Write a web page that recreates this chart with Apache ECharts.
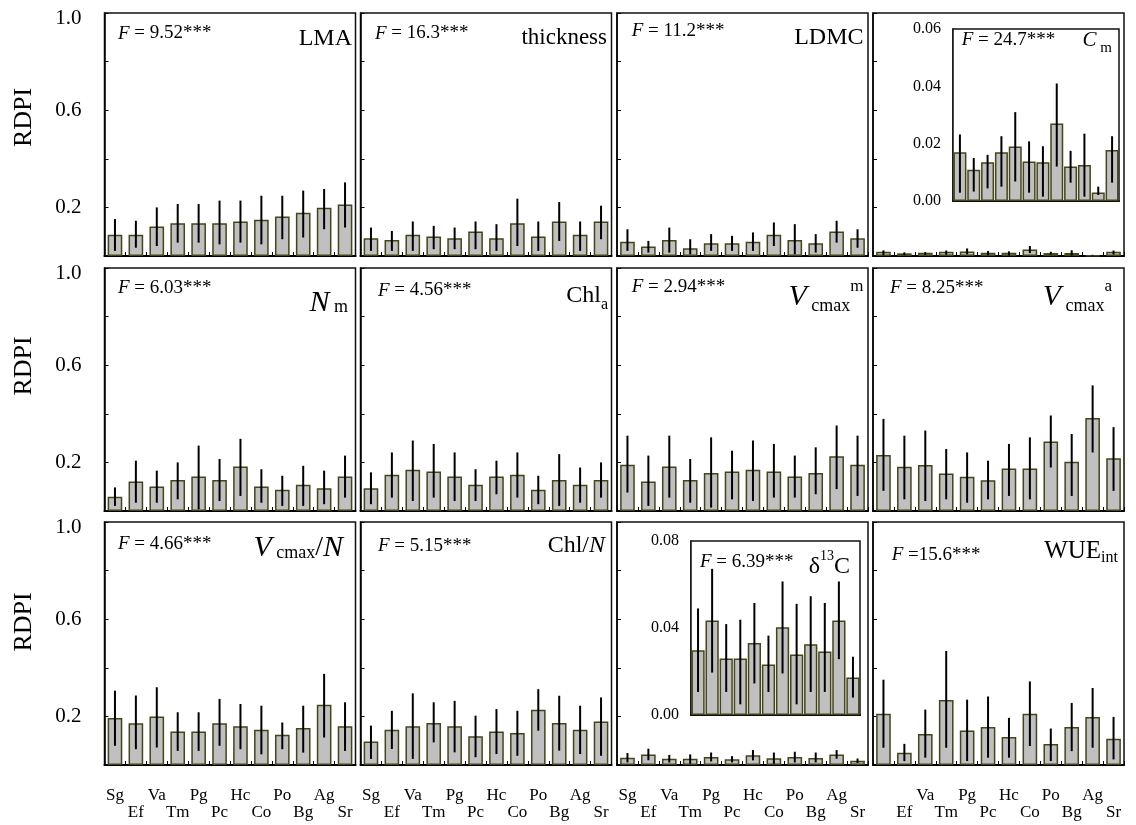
<!DOCTYPE html>
<html>
<head>
<meta charset="utf-8">
<script src="https://cdn.jsdelivr.net/npm/echarts@6/dist/echarts.min.js"></script>
<style>
html,body{margin:0;padding:0;background:#fff;}
#c{width:1136px;height:825px;}
</style>
</head>
<body>
<div id="c"></div>
<script>
// ---------------- data ----------------
const categories = ['Sg','Ef','Va','Tm','Pg','Pc','Hc','Co','Po','Bg','Ag','Sr'];
const lastPanelTickLabels = ['','Ef','Va','Tm','Pg','Pc','Hc','Co','Po','Bg','Ag','Sr'];
const yTickLabels = ['0.2','0.6','1.0'];

const lmaMean = [0.087,0.087,0.121,0.135,0.135,0.135,0.142,0.149,0.163,0.178,0.199,0.212];
const lmaLow  = [0.021,0.034,0.041,0.055,0.055,0.048,0.055,0.048,0.069,0.076,0.110,0.117];
const lmaHigh = [0.152,0.145,0.200,0.214,0.214,0.228,0.228,0.248,0.248,0.269,0.276,0.303];

const thickMean = [0.073,0.066,0.087,0.080,0.073,0.101,0.073,0.135,0.080,0.142,0.087,0.142];
const thickLow  = [0.021,0.021,0.021,0.028,0.028,0.028,0.021,0.041,0.021,0.062,0.021,0.069];
const thickHigh = [0.117,0.103,0.142,0.124,0.117,0.142,0.131,0.236,0.142,0.222,0.142,0.207];

const ldmcMean = [0.059,0.039,0.066,0.032,0.052,0.052,0.059,0.087,0.066,0.052,0.101,0.073];
const ldmcLow  = [0.021,0.014,0.014,0.007,0.021,0.021,0.021,0.041,0.007,0.014,0.055,0.034];
const ldmcHigh = [0.110,0.062,0.117,0.069,0.090,0.083,0.097,0.138,0.131,0.090,0.145,0.110];

const cmMean = [0.0170,0.0109,0.0135,0.0170,0.0190,0.0138,0.0135,0.0270,0.0120,0.0126,0.0030,0.0178];
const cmLow  = [0.0029,0.0033,0.0044,0.0050,0.0068,0.0029,0.0015,0.0120,0.0064,0.0015,0.0021,0.0064];
const cmHigh = [0.0232,0.0150,0.0161,0.0226,0.0310,0.0208,0.0191,0.0410,0.0175,0.0235,0.0050,0.0226];

const nmMean = [0.059,0.121,0.101,0.128,0.142,0.128,0.183,0.101,0.087,0.108,0.094,0.142];
const nmLow  = [0.021,0.034,0.034,0.048,0.007,0.041,0.062,0.034,0.021,0.021,0.028,0.055];
const nmHigh = [0.097,0.207,0.166,0.200,0.269,0.214,0.297,0.172,0.145,0.186,0.166,0.228];

const chlaMean = [0.094,0.149,0.170,0.163,0.142,0.108,0.142,0.149,0.087,0.128,0.108,0.128];
const chlaLow  = [0.028,0.055,0.041,0.055,0.041,0.041,0.069,0.055,0.028,0.021,0.034,0.055];
const chlaHigh = [0.159,0.241,0.290,0.276,0.241,0.172,0.207,0.241,0.145,0.234,0.179,0.200];

const vmMean = [0.190,0.121,0.183,0.128,0.156,0.163,0.170,0.163,0.142,0.156,0.225,0.190];
const vmLow  = [0.076,0.021,0.055,0.034,0.014,0.048,0.041,0.055,0.055,0.069,0.090,0.062];
const vmHigh = [0.310,0.228,0.310,0.214,0.303,0.248,0.290,0.276,0.228,0.262,0.352,0.310];

const vaMean = [0.230,0.182,0.189,0.154,0.141,0.127,0.175,0.175,0.286,0.203,0.383,0.217];
const vaLow  = [0.083,0.048,0.041,0.048,0.034,0.048,0.062,0.048,0.179,0.062,0.241,0.083];
const vaHigh = [0.379,0.310,0.331,0.255,0.241,0.207,0.276,0.303,0.393,0.317,0.517,0.345];

const vnMean = [0.193,0.172,0.200,0.138,0.138,0.172,0.159,0.145,0.124,0.152,0.248,0.159];
const vnLow  = [0.079,0.065,0.072,0.058,0.058,0.079,0.065,0.044,0.065,0.051,0.113,0.058];
const vnHigh = [0.306,0.286,0.320,0.217,0.217,0.272,0.251,0.244,0.175,0.244,0.375,0.258];

const cnMean = [0.097,0.145,0.159,0.173,0.159,0.118,0.138,0.132,0.227,0.173,0.145,0.179];
const cnLow  = [0.025,0.066,0.025,0.093,0.052,0.032,0.045,0.038,0.141,0.059,0.045,0.038];
const cnHigh = [0.162,0.223,0.295,0.258,0.264,0.203,0.230,0.223,0.312,0.285,0.244,0.278];

const d13Mean = [0.0298,0.0434,0.0260,0.0260,0.0331,0.0232,0.0403,0.0278,0.0325,0.0292,0.0434,0.0172];
const d13Low  = [0.0106,0.0195,0.0106,0.0049,0.0145,0.0106,0.0191,0.0049,0.0106,0.0106,0.0257,0.0080];
const d13High = [0.0490,0.0672,0.0418,0.0438,0.0515,0.0365,0.0614,0.0511,0.0546,0.0515,0.0614,0.0268];

const wueMean = [0.211,0.050,0.128,0.267,0.142,0.156,0.115,0.211,0.086,0.156,0.198,0.108];
const wueLow  = [0.071,0.016,0.030,0.071,0.016,0.030,0.030,0.078,0.016,0.057,0.071,0.023];
const wueHigh = [0.351,0.087,0.228,0.469,0.269,0.282,0.194,0.344,0.150,0.255,0.317,0.198];

const fStats = [' = 9.52***',' = 16.3***',' = 11.2***',' = 24.7***',
                ' = 6.03***',' = 4.56***',' = 2.94***',' = 8.25***',
                ' = 4.66***',' = 5.15***',' = 6.39***',' =15.6***'];

// ---------------- layout ----------------
const FONT = 'Liberation Serif';
const colLeft = [104.5, 360.5, 617, 873];
const rowTop = [13, 268, 522];
const panelW = 251, panelH = 243;

const panels = [
  {mean: lmaMean, lo: lmaLow, hi: lmaHigh},
  {mean: thickMean, lo: thickLow, hi: thickHigh},
  {mean: ldmcMean, lo: ldmcLow, hi: ldmcHigh},
  {mean: cmMean, lo: cmLow, hi: cmHigh},
  {mean: nmMean, lo: nmLow, hi: nmHigh},
  {mean: chlaMean, lo: chlaLow, hi: chlaHigh},
  {mean: vmMean, lo: vmLow, hi: vmHigh},
  {mean: vaMean, lo: vaLow, hi: vaHigh},
  {mean: vnMean, lo: vnLow, hi: vnHigh},
  {mean: cnMean, lo: cnLow, hi: cnHigh},
  {mean: d13Mean, lo: d13Low, hi: d13High},
  {mean: wueMean, lo: wueLow, hi: wueHigh}
];
const insets = [
  {mean: cmMean, lo: cmLow, hi: cmHigh, max: 0.06, interval: 0.02, rect: {left: 953, top: 29, width: 166, height: 172}},
  {mean: d13Mean, lo: d13Low, hi: d13High, max: 0.08, interval: 0.04, rect: {left: 691, top: 541, width: 169, height: 174}}
];

function errorBar(params, api) {
  const x = api.value(0);
  const a = api.coord([x, api.value(1)]);
  const b = api.coord([x, api.value(2)]);
  return {type: 'line', shape: {x1: a[0], y1: a[1], x2: b[0], y2: b[1]},
          style: {stroke: '#000', lineWidth: 2}};
}

const grids = [], xAxes = [], yAxes = [], series = [];
const barStyle = {color: '#c0c0c0', borderColor: '#45451a', borderWidth: 1.5};

panels.forEach((p, k) => {
  const col = k % 4, row = Math.floor(k / 4);
  grids.push({left: colLeft[col], top: rowTop[row], width: panelW, height: panelH,
              show: true, borderColor: '#111', borderWidth: 1.5, backgroundColor: 'transparent'});
  xAxes.push({type: 'category', gridIndex: k, data: k === 11 ? lastPanelTickLabels : categories,
    axisLine: {lineStyle: {color: '#000', width: 2}},
    axisTick: {show: true, inside: true, length: 4, lineStyle: {color: '#000', width: 1}},
    axisLabel: {show: row === 2, interval: 0, formatter: (v, i) => (i % 2 === 0 ? v : '\n' + v),
                fontFamily: FONT, fontSize: 17, lineHeight: 17, color: '#000', margin: 22}});
  yAxes.push({type: 'value', gridIndex: k, min: 0, max: 1, interval: 0.2,
    splitLine: {show: false},
    axisLine: {show: true, lineStyle: {color: '#000', width: 1.5}},
    axisTick: {show: true, inside: true, length: 4, lineStyle: {color: '#000', width: 1}},
    axisLabel: {show: col === 0,
                formatter: v => {
                  const s = v.toFixed(1);
                  if (yTickLabels.indexOf(s) < 0) return '';
                  return s === '1.0' ? '{t|' + s + '}' : s;
                },
                rich: {t: {fontFamily: FONT, fontSize: 21, color: '#000', padding: [10, 0, 0, 0]}},
                fontFamily: FONT, fontSize: 21, color: '#000', margin: 23}});
  series.push({type: 'bar', xAxisIndex: k, yAxisIndex: k, data: p.mean, barWidth: '70%',
               itemStyle: barStyle, z: 2, silent: true});
  series.push({type: 'custom', xAxisIndex: k, yAxisIndex: k,
               data: p.mean.map((m, i) => [i, p.lo[i], p.hi[i]]),
               renderItem: errorBar, encode: {x: 0, y: [1, 2]}, z: 3, silent: true});
});

insets.forEach((p, j) => {
  const k = panels.length + j;
  grids.push(Object.assign({show: true, borderColor: '#111', borderWidth: 1.5, backgroundColor: '#fff', z: 5}, p.rect));
  xAxes.push({type: 'category', gridIndex: k, data: categories,
    axisLine: {lineStyle: {color: '#000', width: 2}}, axisTick: {show: false}, axisLabel: {show: false}});
  yAxes.push({type: 'value', gridIndex: k, min: 0, max: p.max, interval: p.interval,
    splitLine: {show: false},
    axisLine: {show: true, lineStyle: {color: '#000', width: 1.5}}, axisTick: {show: false},
    axisLabel: {formatter: v => v.toFixed(2), fontFamily: FONT, fontSize: 16, color: '#000', margin: 12}});
  series.push({type: 'bar', xAxisIndex: k, yAxisIndex: k, data: p.mean, barWidth: '94%',
               itemStyle: barStyle, z: 6, silent: true});
  series.push({type: 'custom', xAxisIndex: k, yAxisIndex: k,
               data: p.mean.map((m, i) => [i, p.lo[i], p.hi[i]]),
               renderItem: errorBar, encode: {x: 0, y: [1, 2]}, z: 7, silent: true});
});

// ---------------- texts ----------------
const graphics = [];
[117.5, 366, 622].forEach(y => {
  graphics.push({type: 'text', x: 24, y: y, rotation: Math.PI / 2, z: 100, silent: true,
    style: {text: 'RDPI', fontFamily: FONT, fontSize: 26, fill: '#000', align: 'center', verticalAlign: 'middle'}});
});

const fPos = [[118, 33.5], [375, 33.5], [631.7, 31], [961.7, 40],
              [118, 288.3], [378, 290.5], [631.7, 286.7], [890, 288.3],
              [118, 544], [378, 545.7], [700, 562], [891.7, 555]];
fStats.forEach((s, k) => {
  graphics.push({type: 'text', x: fPos[k][0], y: fPos[k][1], z: 100, silent: true,
    style: {text: '{i|F}{n|' + s + '}', align: 'left', verticalAlign: 'middle', fill: '#000',
      fontFamily: FONT, fontSize: 19,
      rich: {i: {fontFamily: FONT, fontSize: 19, fontStyle: 'italic', fill: '#000'},
             n: {fontFamily: FONT, fontSize: 19, fill: '#000'}}}});
});

const L = 40;
function R(size, opt) {
  return Object.assign({fontFamily: FONT, fontSize: size, fill: '#000', lineHeight: L}, opt || {});
}
function SUB(size, off) { return {fontFamily: FONT, fontSize: size, fill: '#000', verticalAlign: 'bottom', height: L - 2 * off, lineHeight: L - 2 * off}; }
function SUP(size, off) { return {fontFamily: FONT, fontSize: size, fill: '#000', verticalAlign: 'top', height: L - 2 * off, lineHeight: L - 2 * off}; }

const titles = [
  {text: '{n|LMA}', rich: {n: R(24)}, x: 352, y: 39},
  {text: '{n|thickness}', rich: {n: R(23)}, x: 607, y: 38},
  {text: '{n|LDMC}', rich: {n: R(24)}, x: 863.5, y: 38},
  {text: '{i|C}{s| m}', rich: {i: R(21, {fontStyle: 'italic'}), s: SUB(15, 8)}, x: 1112, y: 40},
  {text: '{i|N}{s| m}', rich: {i: R(30, {fontStyle: 'italic'}), s: SUB(18, 4)}, x: 348, y: 303},
  {text: '{n|Chl}{s|a}', rich: {n: R(24), s: SUB(16, 9)}, x: 608, y: 296},
  {text: '{i|V}{s| cmax}{p|m}', rich: {i: R(30, {fontStyle: 'italic'}), s: SUB(18, 9.5), p: SUP(17, 10)}, x: 863.5, y: 297},
  {text: '{i|V}{s| cmax}{p|a}', rich: {i: R(30, {fontStyle: 'italic'}), s: SUB(18, 9.5), p: SUP(17, 10)}, x: 1112, y: 297},
  {text: '{i|V}{s| cmax}{n|/}{i|N}', rich: {i: R(30, {fontStyle: 'italic'}), n: R(28), s: SUB(18, 5.5)}, x: 343, y: 548},
  {text: '{n|Chl/}{i|N}', rich: {n: R(24), i: R(24, {fontStyle: 'italic'})}, x: 605, y: 546},
  {text: '{n|\u03b4}{p|13}{n|C}', rich: {n: R(24), p: SUP(14, 11)}, x: 850, y: 567},
  {text: '{n|WUE}{s|int}', rich: {n: R(25), s: SUB(16, 7)}, x: 1118, y: 551}
];
titles.forEach(t => {
  graphics.push({type: 'text', x: t.x, y: t.y, z: 100, silent: true,
    style: {text: t.text, rich: t.rich, align: 'right', verticalAlign: 'middle', fill: '#000',
            fontFamily: FONT, fontSize: 24}});
});

const chart = echarts.init(document.getElementById('c'), null, {renderer: 'canvas'});
chart.setOption({
  animation: false,
  backgroundColor: '#fff',
  grid: grids,
  xAxis: xAxes,
  yAxis: yAxes,
  series: series,
  graphic: {elements: graphics}
});
</script>
</body>
</html>
